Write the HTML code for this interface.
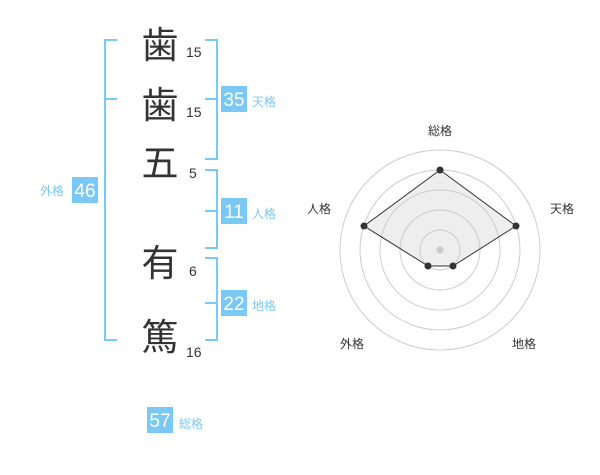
<!DOCTYPE html>
<html><head><meta charset="utf-8"><style>
body{margin:0;width:600px;height:470px;background:#fff;overflow:hidden;font-family:"Liberation Sans","Noto Sans CJK JP",sans-serif}
</style></head><body>
<svg width="600" height="470" xmlns="http://www.w3.org/2000/svg" font-family="Liberation Sans, Noto Sans CJK JP, sans-serif">
<g fill="#333" font-size="37" text-anchor="middle">
<text x="160" y="58">歯</text>
<text x="160" y="118">歯</text>
<text x="160" y="176">五</text>
<text x="160" y="276">有</text>
<text x="160" y="350">篤</text>
</g>
<g fill="#333" font-size="14">
<text x="186" y="57">15</text>
<text x="186" y="117">15</text>
<text x="189" y="178">5</text>
<text x="189" y="276">6</text>
<text x="186" y="357">16</text>
</g>
<g stroke="#7cc8f4" stroke-width="2" fill="none">
<path d="M117 40H105V340H117M105 99H117"/>
<path d="M205 40H217V159H205M205 99H217"/>
<path d="M205 170H217V248H205M205 211H217"/>
<path d="M205 258H217V340H205M205 303H217"/>
</g>
<g fill="#7cc8f4">
<rect x="72" y="177" width="26" height="26"/>
<rect x="221" y="86" width="26" height="26"/>
<rect x="221" y="198" width="26" height="26"/>
<rect x="221" y="290" width="26" height="26"/>
<rect x="147" y="407" width="26" height="26"/>
</g>
<g fill="#fff" font-size="19" text-anchor="middle">
<text x="85" y="197">46</text>
<text x="234" y="106">35</text>
<text x="234" y="218">11</text>
<text x="234" y="310">22</text>
<text x="160" y="427">57</text>
</g>
<g fill="#7cc8f4" font-size="12">
<text x="40" y="195">外格</text>
<text x="252" y="106">天格</text>
<text x="252" y="218">人格</text>
<text x="252" y="310">地格</text>
<text x="179" y="428">総格</text>
</g>
<g fill="none" stroke="#ccc" stroke-width="1">
<circle cx="440" cy="250" r="100"/><circle cx="440" cy="250" r="80"/>
<circle cx="440" cy="250" r="60"/><circle cx="440" cy="250" r="40"/>
<circle cx="440" cy="250" r="20"/>
</g>
<circle cx="440" cy="250" r="3.5" fill="#ccc"/>
<polygon points="440,170 516,226 453,266 428,266 364,226" fill="rgba(200,200,200,0.3)" stroke="#333" stroke-width="1"/>
<g fill="#333">
<circle cx="440" cy="170" r="3.5"/><circle cx="516" cy="226" r="3.5"/>
<circle cx="453" cy="266" r="3.5"/><circle cx="428" cy="266" r="3.5"/>
<circle cx="364" cy="226" r="3.5"/>
</g>
<g fill="#333" font-size="12" text-anchor="middle">
<text x="440" y="135">総格</text>
<text x="562" y="213">天格</text>
<text x="319" y="213">人格</text>
<text x="352" y="348">外格</text>
<text x="524" y="348">地格</text>
</g>
</svg>
</body></html>
